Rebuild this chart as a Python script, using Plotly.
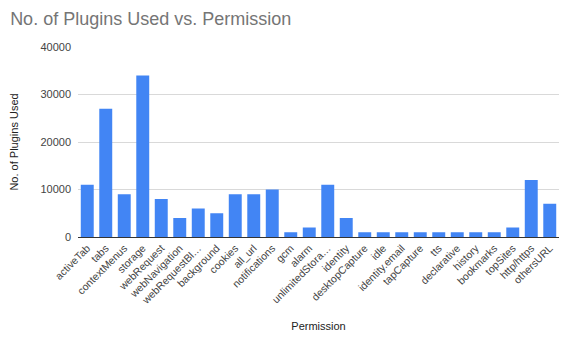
import plotly.graph_objects as go

categories = ["activeTab", "tabs", "contextMenus", "storage", "webRequest", "webNavigation",
              "webRequestBl…", "background", "cookies", "all_url", "notifications", "gcm",
              "alarm", "unlimitedStora…", "identity", "desktopCapture", "idle", "identity.email",
              "tapCapture", "tts", "declarative", "history", "bookmarks", "topSites",
              "http/https", "othersURL"]
values = [11000, 27000, 9000, 34000, 8000, 4000, 6000, 5000, 9000, 9000, 10000, 1000,
          2000, 11000, 4000, 1000, 1000, 1000, 1000, 1000, 1000, 1000, 1000, 2000,
          12000, 7000]
y_ticks = [0, 10000, 20000, 30000, 40000]

fig = go.Figure(go.Bar(x=categories, y=values, marker=dict(color="#4285F4", line_width=0)))

font = "Liberation Sans, Arial, sans-serif"
fig.update_layout(
    width=563, height=339,
    margin=dict(l=78, r=4, t=47, b=102),
    paper_bgcolor="white", plot_bgcolor="white",
    bargap=0.3,
    showlegend=False,
    font=dict(family=font, size=11, color="#444444"),
    title=dict(text="No. of Plugins Used vs. Permission", x=0.018, xanchor="left",
               y=0.945, yanchor="middle",
               font=dict(family=font, size=18, color="#757575")),
    xaxis=dict(tickangle=-45, showgrid=False, showline=True, linecolor="#333333",
               linewidth=1, ticks="", tickfont=dict(size=10.5, color="#444444"),
               title=dict(text="Permission", font=dict(size=11, color="#222222"), standoff=16)),
    yaxis=dict(range=[0, 40000], tickvals=y_ticks, ticktext=[str(v) for v in y_ticks],
               showgrid=True, gridcolor="#d9d9d9", zeroline=False, showline=False,
               tickfont=dict(size=11, color="#444444"), ticks="", ticklabelstandoff=6,
               title=dict(text="No. of Plugins Used", font=dict(size=11, color="#222222"),
                          standoff=19)),
)

fig.write_html("out.html")
